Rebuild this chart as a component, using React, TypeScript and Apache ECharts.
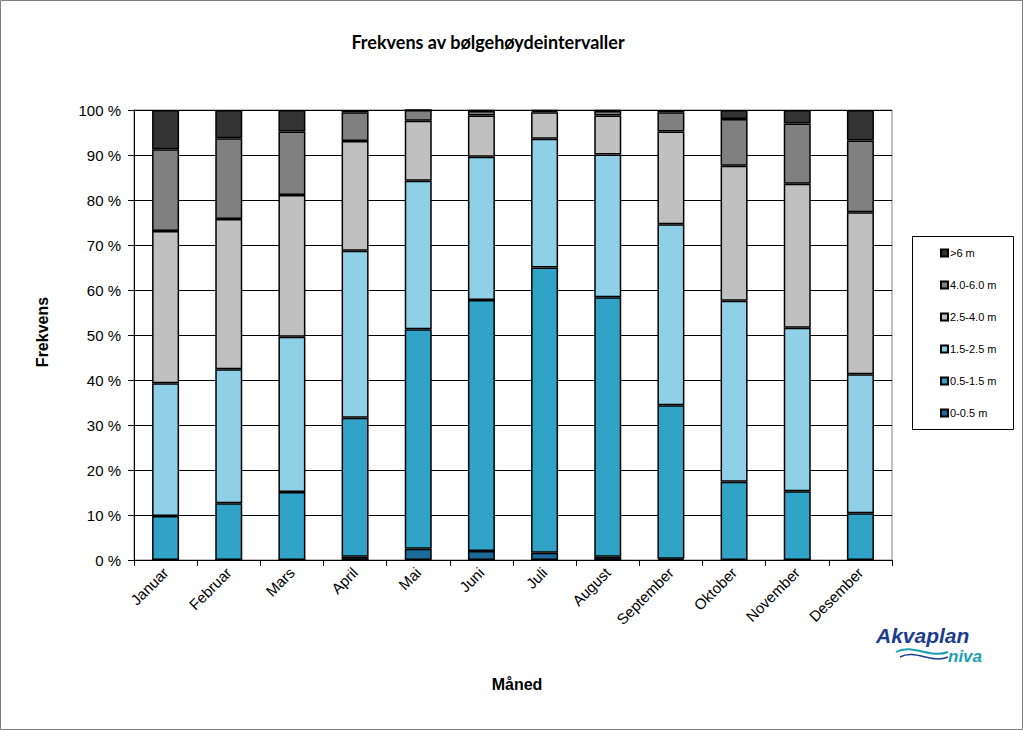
import React, { useEffect, useRef } from "react";
import * as echarts from "echarts";

const months = ["Januar", "Februar", "Mars", "April", "Mai", "Juni", "Juli", "August", "September", "Oktober", "November", "Desember"];
const seriesNames = ["0-0.5 m", "0.5-1.5 m", "1.5-2.5 m", "2.5-4.0 m", "4.0-6.0 m", ">6 m"];
const h0_05 = [0, 0, 0, 0.7, 2.5, 2.0, 1.6, 0.7, 0.3, 0, 0, 0];
const h05_15 = [9.8, 12.6, 15.1, 30.9, 48.8, 55.8, 63.4, 57.7, 34.1, 17.4, 15.3, 10.4];
const h15_25 = [29.5, 29.8, 34.5, 37.1, 33.0, 31.8, 28.6, 31.7, 40.2, 40.2, 36.3, 30.9];
const h25_40 = [33.8, 33.4, 31.5, 24.4, 13.3, 9.2, 5.9, 8.7, 20.6, 30.0, 32.0, 36.0];
const h40_60 = [18.2, 17.9, 14.1, 6.4, 2.4, 1.0, 0.3, 1.0, 4.3, 10.4, 13.4, 15.9];
const h60 = [8.7, 6.3, 4.8, 0.5, 0.0, 0.2, 0.2, 0.2, 0.5, 2.0, 3.0, 6.8];
const yTicks = [0, 10, 20, 30, 40, 50, 60, 70, 80, 90, 100];

const seriesData = [h0_05, h05_15, h15_25, h25_40, h40_60, h60];
const colors = ["#1B6A97", "#30A3C7", "#8FD0E7", "#C0C0C0", "#808080", "#333333"];

export default function App() {
  const ref = useRef<HTMLDivElement>(null);
  useEffect(() => {
    if (!ref.current) return;
    const chart = echarts.init(ref.current, null, { renderer: "svg" });
    const option: any = {
      animation: false,
      backgroundColor: "#ffffff",
      textStyle: { fontFamily: "Arial, 'Liberation Sans', sans-serif" },
      grid: {
        left: 134,
        right: 131,
        top: 110,
        bottom: 170,
        show: true,
        borderColor: "#808080",
        borderWidth: 1,
        backgroundColor: "transparent",
      },
      legend: {
        orient: "vertical",
        left: 935,
        top: 242,
        itemWidth: 7,
        itemHeight: 7,
        itemGap: 20,
        icon: "rect",
        data: seriesNames.slice().reverse(),
        textStyle: { fontSize: 11, color: "#000", lineHeight: 12, fontFamily: "Arial, 'Liberation Sans', sans-serif", padding: [0, 0, 0, -3] },
      },
      xAxis: {
        type: "category",
        data: months,
        axisLine: { lineStyle: { color: "#000", width: 1 } },
        axisTick: { show: true, length: 6, lineStyle: { color: "#000" } },
        axisLabel: {
          rotate: 45,
          fontSize: 15,
          color: "#000",
          margin: 10,
          interval: 0,
          fontFamily: "Arial, 'Liberation Sans', sans-serif",
        },
      },
      yAxis: {
        type: "value",
        min: 0,
        max: 100,
        interval: 10,
        axisLine: { show: true, lineStyle: { color: "#000", width: 1 } },
        axisTick: { show: true, length: 6, lineStyle: { color: "#000" } },
        axisLabel: {
          formatter: "{value} %",
          fontSize: 15,
          color: "#000",
          margin: 13,
          fontFamily: "Arial, 'Liberation Sans', sans-serif",
        },
        splitLine: { show: true, lineStyle: { color: "#000", width: 1 } },
      },
      series: seriesNames.map((name, i) => ({
        name,
        type: "bar",
        stack: "total",
        barWidth: 27,
        data: seriesData[i],
        itemStyle: { color: colors[i], borderColor: "#000", borderWidth: 1.5 },
        emphasis: { disabled: true },
      })),
      graphic: [
        {
          type: "rect",
          shape: { x: 0.5, y: 0.5, width: 1022, height: 729 },
          style: { fill: "none", stroke: "#7f7f7f", lineWidth: 1 },
          silent: true,
        },
        {
          type: "rect",
          shape: { x: 912.5, y: 236.5, width: 101, height: 193 },
          style: { fill: "none", stroke: "#000", lineWidth: 1 },
          silent: true,
        },
        {
          type: "text",
          x: 488,
          y: 42,
          style: {
            text: "Frekvens av bølgehøydeintervaller",
            font: "bold 18px Lato, 'Open Sans', sans-serif",
            fill: "#000",
            align: "center",
            verticalAlign: "middle",
          },
        },
        {
          type: "text",
          x: 42,
          y: 332,
          rotation: Math.PI / 2,
          style: {
            text: "Frekvens",
            font: "bold 16px Arial, 'Liberation Sans', sans-serif",
            fill: "#000",
            align: "center",
            verticalAlign: "middle",
          },
        },
        {
          type: "text",
          x: 517,
          y: 684,
          style: {
            text: "Måned",
            font: "bold 16px Arial, 'Liberation Sans', sans-serif",
            fill: "#000",
            align: "center",
            verticalAlign: "middle",
          },
        },
        {
          type: "text",
          x: 876,
          y: 635,
          style: {
            text: "Akvaplan",
            font: "bold italic 21px Arial, 'Liberation Sans', sans-serif",
            fill: "#1C3D8E",
            align: "left",
            verticalAlign: "middle",
          },
        },
        {
          type: "text",
          x: 948,
          y: 656,
          style: {
            text: "niva",
            font: "bold italic 17px Arial, 'Liberation Sans', sans-serif",
            fill: "#1A9FB4",
            align: "left",
            verticalAlign: "middle",
          },
        },
        {
          type: "bezierCurve",
          shape: { x1: 896, y1: 652, x2: 948, y2: 652, cpx1: 912, cpy1: 643, cpx2: 930, cpy2: 659 },
          style: { stroke: "#1A9FB4", lineWidth: 2, fill: "none" },
        },
        {
          type: "bezierCurve",
          shape: { x1: 900, y1: 657, x2: 948, y2: 657, cpx1: 915, cpy1: 649, cpx2: 932, cpy2: 664 },
          style: { stroke: "#1C3D8E", lineWidth: 1.5, fill: "none" },
        },
      ],
    };
    chart.setOption(option);
    return () => chart.dispose();
  }, []);
  return (
    <div
      ref={ref}
      style={{ position: "absolute", left: 0, top: 0, width: 1023, height: 730 }}
    />
  );
}
